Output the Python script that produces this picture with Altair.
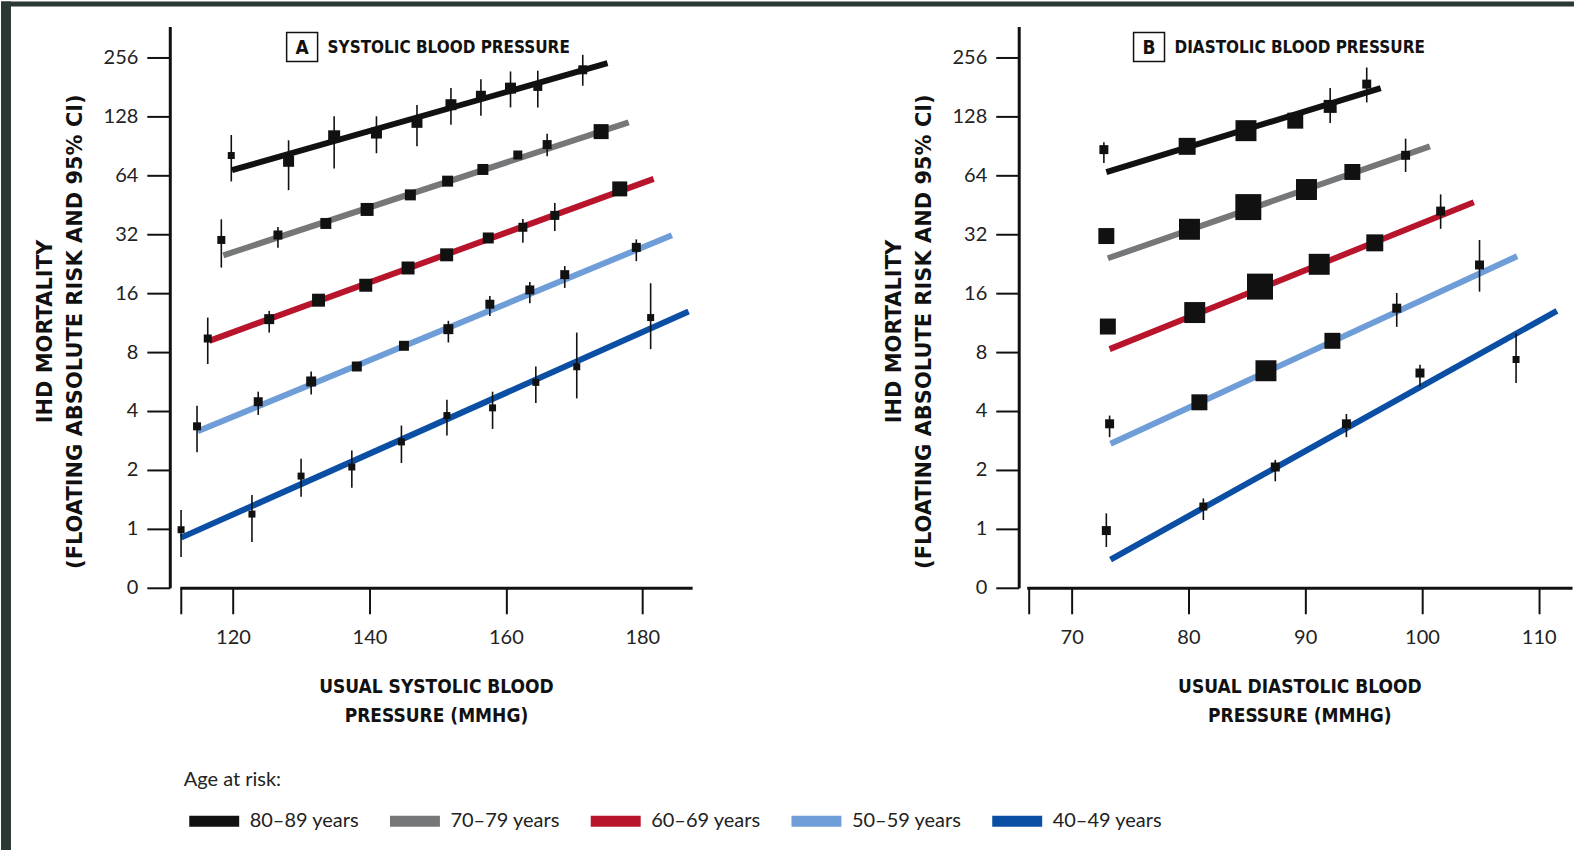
import altair as alt
import pandas as pd

# ---------------- data ----------------
SERIES = ["80–89 years", "70–79 years", "60–69 years", "50–59 years", "40–49 years"]
COLORS = ["#111111", "#767779", "#b8142c", "#6e9dd8", "#0b4fa5"]

Y_TICKS = [0.5, 1, 2, 4, 8, 16, 32, 64, 128, 256]
Y_DOMAIN = [0.5, 368]

# Panel A: usual systolic blood pressure (mmHg)
SBP_DOMAIN = [112.2, 187.3]
SBP_TICKS = [112.3, 120, 140, 160, 180]
SBP_X = [
    [119.75, 128.15, 134.83, 141.03, 146.97, 151.95, 156.34, 160.68, 164.68, 171.27],
    [118.29, 126.59, 133.61, 139.66, 146.0, 151.46, 156.63, 161.75, 166.05, 173.96],
    [116.30, 125.31, 132.54, 139.46, 145.66, 151.32, 157.42, 162.49, 167.17, 176.69],
    [114.73, 123.70, 131.46, 138.15, 145.06, 151.57, 157.65, 163.51, 168.63, 179.12],
    [112.39, 122.78, 129.98, 137.42, 144.69, 151.36, 158.05, 164.39, 170.39, 181.22],
]
SBP_EST = [
    [80.7, 75.4, 101.2, 105.1, 119.2, 146.7, 163.0, 178.3, 181.9, 221.2],
    [29.9, 31.7, 36.3, 42.8, 50.8, 59.7, 68.5, 81.2, 91.8, 106.9],
    [9.38, 11.78, 14.72, 17.55, 21.5, 25.1, 30.6, 34.7, 39.9, 54.5],
    [3.34, 4.46, 5.66, 6.75, 8.61, 10.47, 14.04, 16.61, 19.88, 27.4],
    [0.99, 1.19, 1.86, 2.07, 2.78, 3.79, 4.15, 5.60, 6.73, 12.0],
]
SBP_LO = [
    [59.5, 53.7, 69.3, 82.9, 89.9, 116.0, 129.0, 142.1, 142.1, 183.4],
    [21.6, 27.3, None, None, None, None, None, None, 80.0, None],
    [6.95, 10.06, None, None, None, None, None, 28.9, 33.2, None],
    [2.46, 3.82, 4.85, None, None, 8.95, 12.24, 14.21, 17.0, 23.3],
    [0.718, 0.857, 1.46, 1.62, 2.17, 3.0, 3.24, 4.40, 4.64, 8.28],
]
SBP_HI = [
    [102.7, 96.5, 127.9, 128.0, 146.0, 178.3, 198.1, 216.9, 218.6, 263.8],
    [38.1, 34.8, None, None, None, None, None, None, 104.4, None],
    [12.0, 12.98, None, None, None, None, None, 38.3, 46.2, None],
    [4.26, 5.02, 6.37, None, None, 11.55, 15.48, 18.24, 22.0, 30.1],
    [1.25, 1.49, 2.28, 2.51, 3.37, 4.57, 5.02, 6.75, 10.06, 17.97],
]
SBP_WEIGHT = [
    [1.0, 2.47, 2.94, 2.47, 2.47, 2.47, 2.04, 2.47, 1.65, 1.65],
    [1.31, 1.65, 2.47, 3.45, 2.47, 2.47, 2.47, 1.65, 1.65, 4.59],
    [1.31, 2.04, 3.45, 3.45, 3.45, 3.45, 2.47, 1.65, 1.65, 4.59],
    [1.31, 1.65, 2.04, 2.04, 2.04, 2.04, 1.65, 1.65, 1.65, 1.65],
    [1.0, 1.0, 1.0, 1.0, 1.0, 1.0, 1.0, 1.0, 1.0, 1.0],
]
SBP_LINE_X = [[119.85, 174.9], [118.58, 178.0], [116.53, 181.66], [114.83, 184.34], [112.39, 186.78]]
SBP_LINE_Y = [[67.9, 239.0], [24.96, 119.2], [9.13, 61.3], [3.15, 31.6], [0.902, 12.88]]

# Panel B: usual diastolic blood pressure (mmHg)
DBP_DOMAIN = [66.15, 112.85]
DBP_TICKS = [66.3, 70, 80, 90, 100, 110]
DBP_X = [
    [72.76, 79.89, 84.93, 89.15, 92.14, 95.27],
    [72.97, 80.09, 85.13, 90.11, 94.04, 98.60],
    [73.10, 80.54, 86.13, 91.20, 95.96, 101.60],
    [73.25, 80.94, 86.64, 92.33, 97.84, 104.93],
    [72.97, 81.28, 87.44, 93.53, 99.83, 108.06],
]
DBP_EST = [
    [86.5, 89.9, 108.1, 121.6, 143.8, 186.9],
    [31.3, 33.9, 44.0, 54.1, 66.5, 80.9],
    [10.80, 12.73, 17.27, 22.45, 28.9, 41.97],
    [3.44, 4.43, 6.42, 9.13, 13.4, 22.27],
    [0.98, 1.30, 2.07, 3.44, 6.25, 7.33],
]
DBP_LO = [
    [74.0, None, None, None, 118.3, 150.7],
    [None, None, None, None, None, 66.5],
    [None, None, None, None, None, 34.1],
    [2.94, None, None, None, 10.76, 16.28],
    [0.808, 1.11, 1.75, 2.94, 5.32, 5.56],
]
DBP_HI = [
    [94.3, None, None, None, 178.3, 227.3],
    [None, None, None, None, None, 98.4],
    [None, None, None, None, None, 51.1],
    [3.79, None, None, None, 16.03, 29.9],
    [1.20, 1.43, 2.25, 3.86, 6.89, 9.99],
]
DBP_WEIGHT = [
    [1.65, 5.9, 9.0, 5.22, 3.45, 1.65],
    [5.22, 9.0, 13.8, 9.0, 5.22, 1.65],
    [5.22, 9.0, 13.8, 9.0, 5.9, 1.65],
    [1.65, 5.22, 9.0, 5.22, 1.65, 1.65],
    [1.65, 1.31, 1.65, 1.65, 1.65, 1.0],
]
DBP_LINE_X = [[72.97, 96.47], [73.10, 100.68], [73.25, 104.44], [73.33, 108.15], [73.33, 111.56]]
DBP_LINE_Y = [[66.3, 178.3], [24.1, 89.9], [8.28, 46.6], [2.72, 24.7], [0.697, 12.98]]

Y_TITLE = ["IHD MORTALITY", "(FLOATING ABSOLUTE RISK AND 95% CI)"]
SBP_TITLE = ["USUAL SYSTOLIC BLOOD", "PRESSURE (MMHG)"]
DBP_TITLE = ["USUAL DIASTOLIC BLOOD", "PRESSURE (MMHG)"]

BORDER = "#2b3933"
INK = "#111111"


def points_frame(xs, est, lo, hi, w):
    rows = []
    for s, xl, el, ll, hl, wl in zip(SERIES, xs, est, lo, hi, w):
        for x, e, l, h, ww in zip(xl, el, ll, hl, wl):
            rows.append({"series": s, "x": x, "y": e, "lo": l, "hi": h, "weight": ww})
    return pd.DataFrame(rows)


def lines_frame(lx, ly):
    rows = []
    for s, xl, yl in zip(SERIES, lx, ly):
        for x, y in zip(xl, yl):
            rows.append({"series": s, "x": x, "y": y})
    return pd.DataFrame(rows)


color_scale = alt.Scale(domain=SERIES, range=COLORS)
y_scale = alt.Scale(type="log", base=2, domain=Y_DOMAIN, nice=False)
size_scale = alt.Scale(domain=[0, 14], range=[0, 686])

legend = alt.Legend(
    orient="none", legendX=4, legendY=744, direction="horizontal", columns=5,
    title="Age at risk:", titleFont="Lato", titleFontSize=20, titleFontWeight="normal",
    titleColor="#222", titleAnchor="start", titlePadding=1, titleBaseline="top",
    labelFont="Lato", labelFontSize=20, labelColor="#222", labelOffset=5,
    symbolType="M-1,0L1,0", symbolSize=2500, symbolStrokeWidth=11,
    columnPadding=8, padding=0,
)


def y_axis(offset):
    return alt.Axis(
        values=Y_TICKS,
        labelExpr="datum.value < 0.75 ? '0' : format(datum.value, 'd')",
        title=Y_TITLE, offset=offset, grid=False,
        tickSize=23, tickWidth=2, domainWidth=3, tickColor=INK, domainColor=INK,
        labelFont="Lato", labelFontSize=20, labelColor="#222", labelPadding=9,
        titleFont="DejaVu Sans", titleFontSize=21, titleFontWeight="bold",
        titleColor=INK, titleLineHeight=30, titlePadding=18, titleY=305,
    )


def x_axis(ticks, title):
    return alt.Axis(
        values=ticks,
        labelExpr="datum.value % 10 != 0 ? '' : format(datum.value, 'd')",
        title=title, grid=False, labelFlush=False,
        tickSize=26, tickWidth=2, domainWidth=3, tickColor=INK, domainColor=INK,
        labelFont="Lato", labelFontSize=20, labelColor="#222", labelPadding=14,
        titleFont="DejaVu Sans Condensed", titleFontSize=19, titleFontWeight="bold",
        titleColor=INK, titleLineHeight=29, titlePadding=30,
    )


def panel(pts, lines, x_domain, x_ticks, x_title, y_off, letter, heading, width, decorations):
    xs = alt.Scale(domain=x_domain, nice=False, zero=False)
    xa = x_axis(x_ticks, x_title)
    ya = y_axis(y_off)
    ln = alt.Chart(lines).mark_line(strokeWidth=6, strokeCap="butt").encode(
        x=alt.X("x:Q", scale=xs, axis=xa),
        y=alt.Y("y:Q", scale=y_scale, axis=ya),
        color=alt.Color("series:N", scale=color_scale, legend=legend),
    )
    rules = alt.Chart(pts).transform_filter("isValid(datum.lo)").mark_rule(
        color=INK, strokeWidth=1.6
    ).encode(
        x=alt.X("x:Q", scale=xs, axis=xa),
        y=alt.Y("lo:Q", scale=y_scale, axis=ya),
        y2="hi:Q",
    )
    squares = alt.Chart(pts).mark_square(color=INK, opacity=1, filled=True).encode(
        x=alt.X("x:Q", scale=xs, axis=xa),
        y=alt.Y("y:Q", scale=y_scale, axis=ya),
        size=alt.Size("weight:Q", scale=size_scale, legend=None),
    )
    one = alt.Data(values=[{"k": 1}])
    box = alt.Chart(one).mark_rect(fill="transparent", stroke=INK, strokeWidth=1.5).encode(
        x=alt.value(107), x2=alt.value(138), y=alt.value(6), y2=alt.value(35)
    )
    let = alt.Chart(one).mark_text(
        text=letter, font="DejaVu Sans Condensed", fontSize=19, fontWeight="bold",
        color=INK, align="center", baseline="middle"
    ).encode(x=alt.value(122.5), y=alt.value(21.5))
    head = alt.Chart(one).mark_text(
        text=heading, font="DejaVu Sans Condensed", fontSize=17, fontWeight="bold",
        color=INK, align="left", baseline="middle"
    ).encode(x=alt.value(148), y=alt.value(22))
    layers = decorations + [ln, rules, squares, box, let, head]
    return alt.layer(*layers).properties(width=width, height=562)


one = alt.Data(values=[{"k": 1}])
band_left = alt.Chart(one).mark_rect(color=BORDER).encode(
    x=alt.value(-179), x2=alt.value(-169), y=alt.value(-25), y2=alt.value(825)
)
band_top = alt.Chart(one).mark_rect(color=BORDER).encode(
    x=alt.value(-179), x2=alt.value(1396), y=alt.value(-25), y2=alt.value(-20)
)

pa = panel(
    points_frame(SBP_X, SBP_EST, SBP_LO, SBP_HI, SBP_WEIGHT),
    lines_frame(SBP_LINE_X, SBP_LINE_Y),
    SBP_DOMAIN, SBP_TICKS, SBP_TITLE, 10, "A", "SYSTOLIC BLOOD PRESSURE", 513,
    [band_left, band_top],
)
pb = panel(
    points_frame(DBP_X, DBP_EST, DBP_LO, DBP_HI, DBP_WEIGHT),
    lines_frame(DBP_LINE_X, DBP_LINE_Y),
    DBP_DOMAIN, DBP_TICKS, DBP_TITLE, 8, "B", "DIASTOLIC BLOOD PRESSURE", 546,
    [],
)

chart = alt.hconcat(pa, pb, spacing=335, bounds="flush").properties(
    padding=0, background="white"
).configure_view(stroke="transparent")

chart.save("out.html", embed_options={"renderer": "svg", "actions": False})
